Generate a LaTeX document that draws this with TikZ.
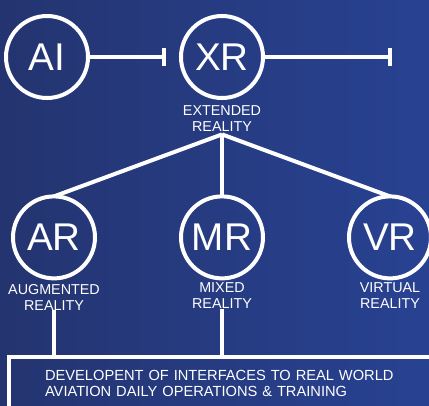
\documentclass[tikz,border=0pt]{standalone}
\usepackage{fontspec}
\setmainfont{Liberation Sans}
\usetikzlibrary{shapes.geometric, arrows.meta, positioning}
\definecolor{navydark}{RGB}{36,52,112}
\definecolor{navymid}{RGB}{44,74,155}
\definecolor{navyright}{RGB}{40,66,146}
\tikzstyle{tech} = [circle, draw=white, line width=3pt, minimum size=61.5pt, inner sep=0pt, outer sep=0pt, text=white, font=\fontsize{29}{29}\selectfont]
\tikzstyle{caption} = [align=center, text=white, inner sep=0pt, font=\fontsize{10.75}{12}\selectfont]
\tikzstyle{link} = [white, line width=3pt]
\tikzstyle{stopper} = [white, line width=3pt, -{Bar[width=13.5pt]}]
\tikzstyle{opsbox} = [rectangle, draw=white, line width=3pt, text=white, align=left, text width=270pt, inner xsep=27.4pt, minimum height=39.75pt, font=\fontsize{11}{11.5}\selectfont]

\begin{document}
\begin{tikzpicture}
    \clip (0,0) rectangle (321.75pt,-304.5pt);
    \shade [left color=navydark, middle color=navymid, right color=navyright] (0,0) rectangle (321.75pt,-304.5pt);
    % top row
    \node (ai) [tech] at (35.25pt,-42.75pt) {AI};
    \node (xr) [tech, right=69.75pt of ai] {XR};
    \coordinate [right=58.5pt of ai] (aistop);
    \coordinate [right=96.75pt of xr] (xrstop);
    \draw [stopper] (ai) -- (aistop);
    \draw [stopper] (xr) -- (xrstop);
    \node (xrlbl) [caption, below=5.5pt of xr] {EXTENDED\\REALITY};
    \coordinate [below=2pt of xrlbl] (fork);
    % second row
    \node (mr) [tech, below=46.5pt of fork] {MR};
    \node (ar) [tech, left=64.5pt of mr] {AR};
    \node (vr) [tech, right=64.5pt of mr] {VR};
    \draw [link] (fork) -- (ar.north);
    \draw [link] (fork) -- (mr.north);
    \draw [link] (fork) -- (vr.north);
    \node (arlbl) [caption, below=4pt of ar] {AUGMENTED\\REALITY};
    \node (mrlbl) [caption, below=3pt of mr] {MIXED\\REALITY};
    \node (vrlbl) [caption, below=3pt of vr] {VIRTUAL\\REALITY};
    % bottom box
    \node (ops) [opsbox, anchor=north west] at (4.875pt,-266.25pt) {DEVELOPENT OF INTERFACES TO REAL WORLD\\AVIATION DAILY OPERATIONS \& TRAINING};
    \draw [link] (arlbl) -- (arlbl |- ops.north);
    \draw [link] (mrlbl) -- (mrlbl |- ops.north);
\end{tikzpicture}
\end{document}
